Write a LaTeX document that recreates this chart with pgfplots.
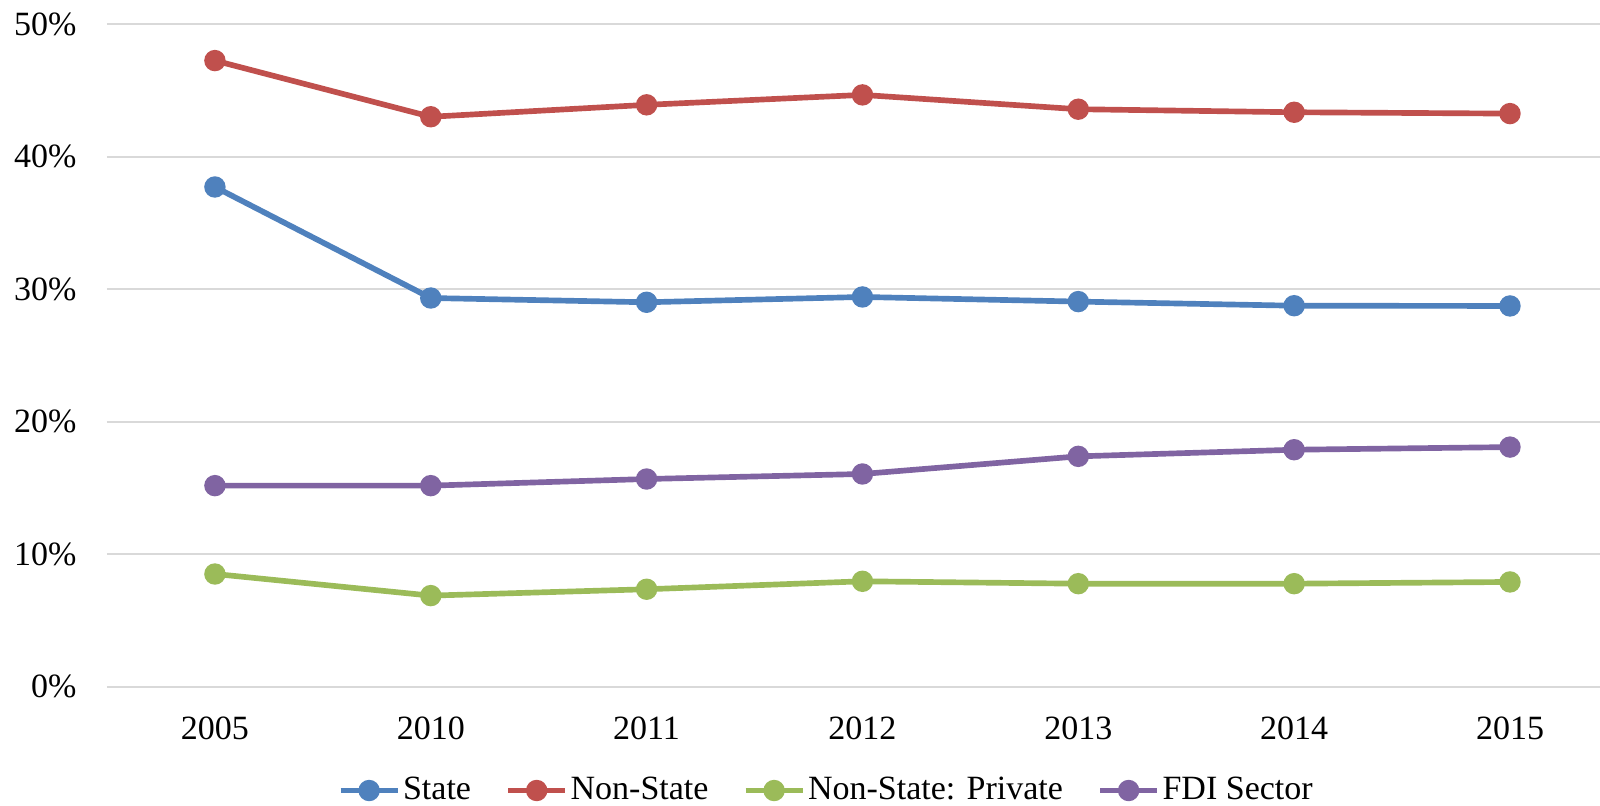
\documentclass[border=0pt]{standalone}
\usepackage{fontspec}
\setmainfont{Liberation Serif}
\usepackage{pgfplots}
\pgfplotsset{compat=1.18}

\definecolor{cState}{HTML}{4F81BD}
\definecolor{cNonState}{HTML}{C0504D}
\definecolor{cPrivate}{HTML}{9BBB59}
\definecolor{cFDI}{HTML}{8064A2}
\definecolor{cGrid}{HTML}{D9D9D9}

\begin{document}
\begin{tikzpicture}
\useasboundingbox (0,0) rectangle (480pt,241.5pt);
\begin{axis}[
  at={(32.1pt,35.55pt)}, anchor=south west,
  scale only axis,
  width=447.9pt, height=198.75pt,
  xmin=-0.5, xmax=6.417,
  ymin=0, ymax=50,
  xtick={0,1,2,3,4,5,6},
  xticklabels={2005,2010,2011,2012,2013,2014,2015},
  ytick={0,10,20,30,40,50},
  yticklabels={0\%,10\%,20\%,30\%,40\%,50\%},
  ymajorgrids,
  major grid style={cGrid, line width=0.6pt},
  axis line style={draw=none},
  tick style={draw=none},
  font=\fontsize{10.2}{12}\selectfont,
  yticklabel style={inner sep=0pt, anchor=east, xshift=-9pt},
  xticklabel style={inner sep=0pt, anchor=north, yshift=-9pt},
  every axis plot/.append style={line width=1.7pt, mark=*, mark size=2.35pt, mark options={solid}},
  legend columns=4,
  legend style={draw=none, fill=none, at={(0.482,-0.157)}, anchor=center,
    font=\fontsize{10.2}{12}\selectfont,
    nodes={inner sep=0.8pt},
    /tikz/every even column/.append style={column sep=9.5pt}},
]
\addplot[color=cState] coordinates {(0,37.7) (1,29.32) (2,29.0) (3,29.4) (4,29.05) (5,28.74) (6,28.72)};
\addlegendentry{State}
\addplot[color=cNonState] coordinates {(0,47.24) (1,43.0) (2,43.9) (3,44.65) (4,43.57) (5,43.34) (6,43.24)};
\addlegendentry{Non-State}
\addplot[color=cPrivate] coordinates {(0,8.49) (1,6.86) (2,7.34) (3,7.94) (4,7.76) (5,7.76) (6,7.89)};
\addlegendentry{Non-State: Private}
\addplot[color=cFDI] coordinates {(0,15.16) (1,15.16) (2,15.66) (3,16.04) (4,17.37) (5,17.87) (6,18.07)};
\addlegendentry{FDI Sector}
\end{axis}
\end{tikzpicture}
\end{document}
